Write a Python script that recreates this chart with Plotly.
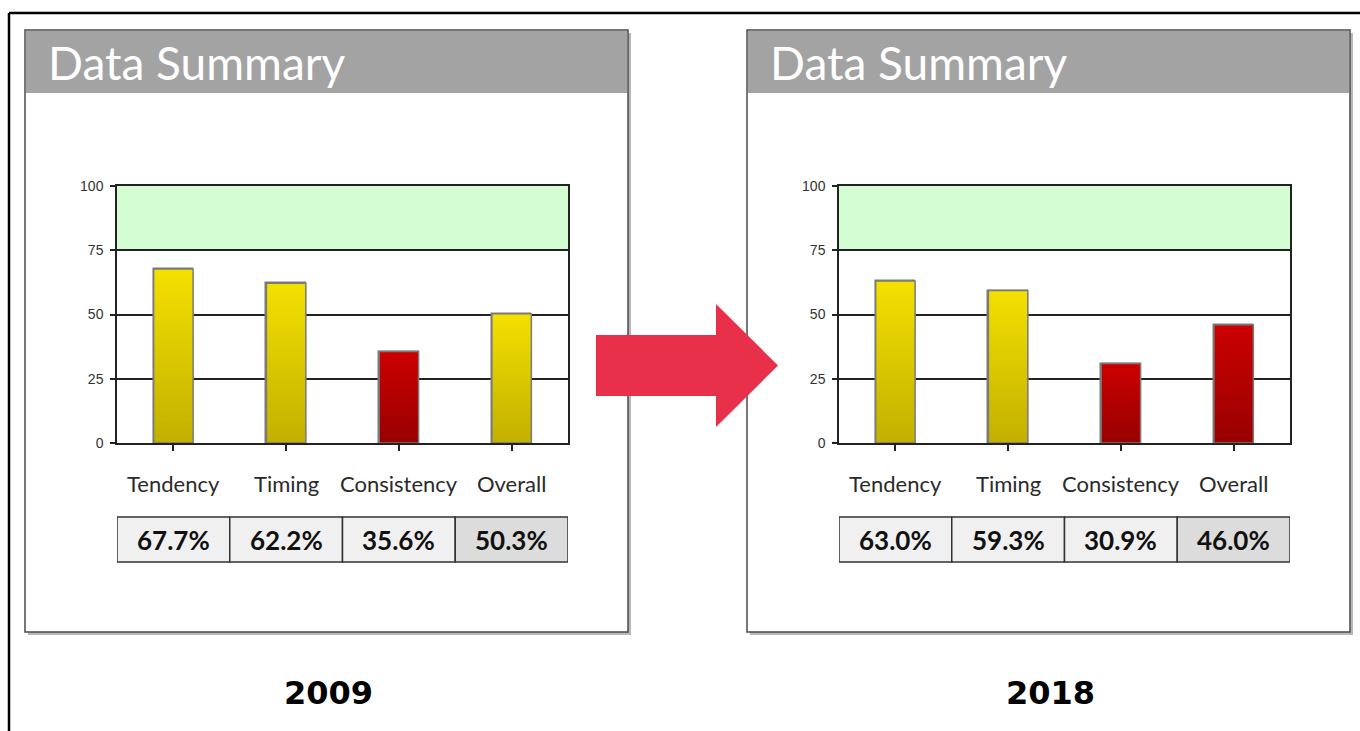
import plotly.graph_objects as go

# ---- data ----
categories = ["Tendency", "Timing", "Consistency", "Overall"]
values_2009 = [67.7, 62.2, 35.6, 50.3]
values_2018 = [63.0, 59.3, 30.9, 46.0]
years = ["2009", "2018"]
panel_title = "Data Summary"
y_ticks = [0, 25, 50, 75, 100]
target_band = [75, 100]
threshold = 50

W, H = 1360, 731
def X(px): return px / W
def Y(py): return 1 - py / H

YELLOW = ("#c2b000", "#f4e000", "#dccb00")  # dark, bright, mid
RED = ("#980000", "#cc0000", "#b40000")

panels = [
    dict(vals=values_2009, year=years[0], left=25, plot=(117, 568), xa="x", ya="y"),
    dict(vals=values_2018, year=years[1], left=747, plot=(839, 1290), xa="x2", ya="y2"),
]
PANEL_W = 603
PANEL_TOP, PANEL_BOT, HEADER_BOT = 30, 632, 93
PLOT_TOP, PLOT_BOT = 186, 443
BAR_W = 0.35

fig = go.Figure()
shapes = []
annotations = []

# outer frame
shapes.append(dict(type="line", xref="paper", yref="paper", x0=X(9), x1=X(1362), y0=Y(13), y1=Y(13),
                   line=dict(color="black", width=2.5), layer="below"))
shapes.append(dict(type="line", xref="paper", yref="paper", x0=X(9), x1=X(9), y0=Y(13), y1=Y(735),
                   line=dict(color="black", width=2.5), layer="below"))

for k, p in enumerate(panels):
    L = p["left"]
    R = L + PANEL_W
    # shadow
    shapes.append(dict(type="rect", xref="paper", yref="paper", x0=X(L + 3), x1=X(R + 3),
                       y0=Y(PANEL_TOP + 3), y1=Y(PANEL_BOT + 3), fillcolor="#b8b8b8",
                       line=dict(width=0), layer="below"))
    # panel body
    shapes.append(dict(type="rect", xref="paper", yref="paper", x0=X(L), x1=X(R),
                       y0=Y(PANEL_TOP), y1=Y(PANEL_BOT), fillcolor="white",
                       line=dict(color="#4a4a4a", width=1.5), layer="below"))
    # header
    shapes.append(dict(type="rect", xref="paper", yref="paper", x0=X(L + 1), x1=X(R - 1),
                       y0=Y(PANEL_TOP + 1), y1=Y(HEADER_BOT), fillcolor="#a3a3a3",
                       line=dict(width=0), layer="below"))
    annotations.append(dict(text=panel_title, xref="paper", yref="paper", x=X(L + 21), y=Y(62),
                            xanchor="left", yanchor="middle", showarrow=False,
                            font=dict(family="Lato", size=46, color="white")))

    xa, ya = p["xa"], p["ya"]
    # green target band
    shapes.append(dict(type="rect", xref=f"{xa} domain", yref=ya, x0=0, x1=1,
                       y0=target_band[0], y1=target_band[1], fillcolor="#d4fdd4",
                       line=dict(width=0), layer="below"))

    xs = list(range(len(categories)))
    cols = [YELLOW if v >= threshold else RED for v in p["vals"]]
    fig.add_trace(go.Bar(x=xs, y=p["vals"], width=BAR_W, xaxis=xa, yaxis=ya,
                         marker=dict(color=[c[2] for c in cols], line=dict(color="#7a7a7a", width=1.5)),
                         showlegend=False, hoverinfo="skip"))
    # gradient overlay using the same values
    for i, v in enumerate(p["vals"]):
        c = cols[i]
        fig.add_trace(go.Scatter(
            x=[i - BAR_W / 2, i + BAR_W / 2, i + BAR_W / 2, i - BAR_W / 2, i - BAR_W / 2],
            y=[0, 0, v, v, 0], mode="lines", fill="toself", xaxis=xa, yaxis=ya,
            fillgradient=dict(type="vertical", colorscale=[[0, c[0]], [1, c[1]]], start=0, stop=v),
            line=dict(color="#7a7a7a", width=1.5), showlegend=False, hoverinfo="skip"))

    # category labels
    for i, cat in enumerate(categories):
        annotations.append(dict(text=cat, xref=xa, yref="paper", x=i, y=Y(483),
                                xanchor="center", yanchor="middle", showarrow=False,
                                font=dict(family="Lato", size=22, color="#2a2a2a")))
    # table
    for i, v in enumerate(p["vals"]):
        fill = "#dcdcdc" if i == len(categories) - 1 else "#f0f0f0"
        shapes.append(dict(type="rect", xref=xa, yref="paper", x0=i - 0.5, x1=i + 0.5,
                           y0=Y(517), y1=Y(562), fillcolor=fill,
                           line=dict(color="#333333", width=1.5), layer="above"))
        annotations.append(dict(text=f"<b>{v:.1f}%</b>", xref=xa, yref="paper", x=i, y=Y(540),
                                xanchor="center", yanchor="middle", showarrow=False,
                                font=dict(family="Lato", size=26, color="#111111")))
    # year label
    annotations.append(dict(text=f"<b>{p['year']}</b>", xref="paper", yref="paper",
                            x=X(L + 303), y=Y(693), xanchor="center", yanchor="middle",
                            showarrow=False,
                            font=dict(family="DejaVu Sans", size=32, color="black")))

# arrow
arrow_path = (f"M {X(596)} {Y(335)} L {X(716)} {Y(335)} L {X(716)} {Y(304)} "
              f"L {X(778)} {Y(365.5)} L {X(716)} {Y(427)} L {X(716)} {Y(396)} "
              f"L {X(596)} {Y(396)} Z")
shapes.append(dict(type="path", xref="paper", yref="paper", path=arrow_path,
                   fillcolor="#e8304a", line=dict(width=0), layer="above"))

axis_common_x = dict(range=[-0.5, 3.5], showgrid=False, zeroline=False, showline=True,
                     linecolor="#222222", linewidth=1.5, mirror=True, ticks="outside",
                     ticklen=6, tickcolor="#222222", tickwidth=1.5, automargin=False,
                     tickvals=[0, 1, 2, 3], showticklabels=False, fixedrange=True)
axis_common_y = dict(range=[0, 100], tickvals=y_ticks, showgrid=True, gridcolor="#222222",
                     gridwidth=1.5, zeroline=False, showline=True, linecolor="#222222",
                     linewidth=1.5, mirror=True, ticks="outside", ticklen=5,
                     tickcolor="#222222", tickwidth=1.5, ticklabelstandoff=4, automargin=False,
                     tickfont=dict(family="Liberation Sans", size=14, color="#333333"),
                     fixedrange=True)

p1, p2 = panels
fig.update_layout(
    width=W, height=H, margin=dict(l=0, r=0, t=0, b=0, pad=0, autoexpand=False),
    paper_bgcolor="white", plot_bgcolor="rgba(0,0,0,0)",
    showlegend=False, bargap=0,
    xaxis=dict(domain=[X(p1["plot"][0]), X(p1["plot"][1])], anchor="y", **axis_common_x),
    yaxis=dict(domain=[Y(PLOT_BOT), Y(PLOT_TOP)], anchor="x", **axis_common_y),
    xaxis2=dict(domain=[X(p2["plot"][0]), X(p2["plot"][1])], anchor="y2", **axis_common_x),
    yaxis2=dict(domain=[Y(PLOT_BOT), Y(PLOT_TOP)], anchor="x2", **axis_common_y),
    shapes=shapes, annotations=annotations,
)

fig.write_html("out.html", config={"displayModeBar": False},
               post_script="document.body.style.margin='0';document.body.style.overflow='hidden';")
